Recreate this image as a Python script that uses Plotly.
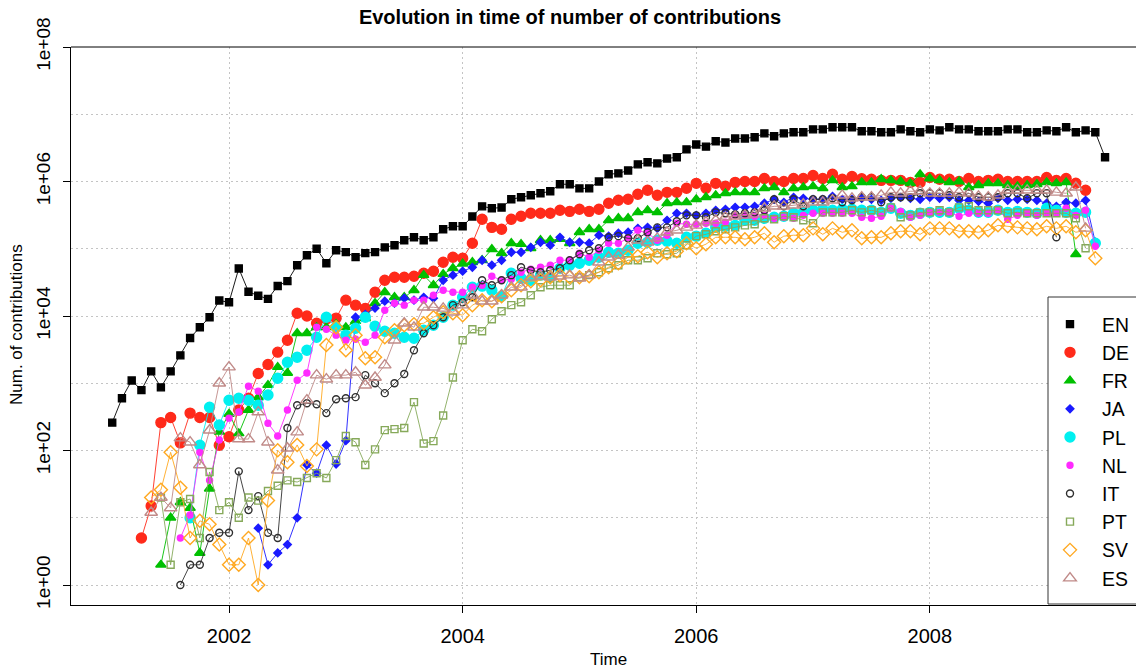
import plotly.graph_objects as go

# ---------------- data (monthly counts) ----------------
languages = ["EN", "DE", "FR", "JA", "PL", "NL", "IT", "PT", "SV", "ES"]
# first month of each series (year, month)
starts = {"EN": (2001, 1), "DE": (2001, 4), "FR": (2001, 6), "JA": (2002, 4),
          "PL": (2001, 9), "NL": (2001, 8), "IT": (2001, 8), "PT": (2001, 6),
          "SV": (2001, 5), "ES": (2001, 5)}

EN = [2.6e2, 6.0e2, 1.1e3, 7.9e2, 1.5e3, 8.7e2, 1.5e3, 2.6e3, 4.7e3, 6.8e3,
      9.6e3, 1.7e4, 1.6e4, 5.1e4, 2.3e4, 2.0e4, 1.8e4, 2.8e4, 3.3e4, 5.7e4,
      8.0e4, 1.0e5, 6.1e4, 9.5e4, 8.9e4, 7.5e4, 8.6e4, 8.9e4, 1.05e5, 1.13e5,
      1.34e5, 1.48e5, 1.34e5, 1.48e5, 1.95e5, 2.16e5, 2.16e5, 3.02e5, 4.27e5, 4.0e5,
      4.1e5, 5.44e5, 5.83e5, 6.24e5, 6.68e5, 7.16e5, 9.1e5, 9.1e5, 7.9e5, 7.9e5,
      1.0e6, 1.28e6, 1.32e6, 1.46e6, 1.8e6, 1.93e6, 1.86e6, 2.2e6, 2.29e6, 3.0e6,
      3.55e6, 3.3e6, 3.96e6, 3.8e6, 4.37e6, 4.37e6, 4.55e6, 5.2e6, 4.7e6, 5.2e6,
      5.4e6, 5.4e6, 5.96e6, 5.96e6, 6.4e6, 6.4e6, 6.4e6, 5.6e6, 5.6e6, 5.4e6,
      5.4e6, 5.96e6, 5.6e6, 5.4e6, 5.96e6, 5.75e6, 6.4e6, 5.96e6, 5.96e6, 5.6e6,
      5.6e6, 5.6e6, 5.96e6, 5.96e6, 5.4e6, 5.4e6, 5.75e6, 5.6e6, 6.4e6, 5.4e6,
      5.75e6, 5.4e6, 2.29e6]

DE = [5, 15, 260, 310, 130, 360, 310,
      310, 120, 160, 400, 600, 1400, 1900, 2900, 4370, 11000,
      10000, 7800, 9000, 9300, 17200, 14500, 13000, 22600, 34000, 37700,
      37700, 39000, 43300, 46400, 63000, 74800, 72300, 121000, 274000, 208000,
      195000, 274000, 304000, 337000, 337000, 337000, 373000, 360000, 386000, 360000,
      386000, 475000, 526000, 544000, 646000, 740000, 624000, 690000, 690000, 793000,
      939000, 793000, 939000, 848000, 971000, 1.0e6, 1.0e6, 1.11e6, 1.0e6, 1.0e6,
      1.11e6, 1.11e6, 1.23e6, 1.11e6, 1.28e6, 1.08e6, 1.19e6, 1.1e6, 1.08e6, 1.04e6,
      1.04e6, 1.04e6, 970000, 970000, 1.15e6, 1.08e6, 1.08e6, 1.0e6, 1.11e6, 1.0e6,
      1.04e6, 1.08e6, 1.0e6, 1.0e6, 1.0e6, 1.0e6, 1.15e6, 1.04e6, 1.11e6, 940000,
      740000]

FR = [2, 10, 17, 14, 3,
      27, 190, 350, 180, 400, 620, 940, 1740, 1420, 5550,
      5550, 6800, 6800, 7550, 6800, 8400, 9300, 15500, 22600, 19000,
      19000, 24200, 40500, 28700, 41900, 51400, 60000, 63000, 67500, 98300,
      85700, 121000, 117000, 102000, 134000, 134000, 139000, 121000, 176000, 195000,
      195000, 265000, 284000, 284000, 348000, 373000, 348000, 475000, 490000, 490000,
      544000, 583000, 624000, 668000, 690000, 690000, 690000, 793000, 820000, 690000,
      793000, 820000, 848000, 793000, 1.04e6, 820000, 848000, 971000, 971000, 1.08e6,
      1.04e6, 1.0e6, 939000, 1.28e6, 1.11e6, 1.04e6, 971000, 1.0e6, 820000, 880000,
      939000, 939000, 880000, 848000, 880000, 910000, 971000, 939000, 971000, 82900]

JA = [7, 2, 3, 4, 10,
      61, 46, 120, 63, 140, 9600, 10600, 13100, 16600, 15500,
      18400, 17200, 19000, 18400, 34000, 40500, 46400, 53000, 67500, 56900,
      67500, 88700, 88700, 105000, 125000, 113000, 148000, 125000, 125000, 121000,
      159000, 154000, 170000, 176000, 201000, 208000, 201000, 265000, 337000, 337000,
      314000, 337000, 373000, 386000, 413000, 413000, 428000, 475000, 544000, 491000,
      583000, 563000, 544000, 544000, 603000, 544000, 544000, 563000, 544000, 526000,
      563000, 583000, 563000, 544000, 583000, 563000, 583000, 526000, 526000, 508000,
      475000, 563000, 526000, 544000, 544000, 526000, 475000, 428000, 491000, 475000,
      526000, 125000]

PL = [10, 120,
      440, 240, 560, 600, 560, 470, 670, 1190, 2050, 2440,
      3100, 4840, 9600, 6800, 5190, 6590, 9600, 7050, 5940, 5550,
      4840, 4680, 6150, 7300, 9600, 14500, 19000, 26800, 27800, 24200,
      19700, 43300, 36400, 34000, 40500, 37700, 51400, 57000, 61000, 67500,
      74800, 88700, 85700, 95000, 121000, 125000, 134000, 130000, 121000, 148000,
      154000, 170000, 208000, 216000, 223000, 265000, 265000, 284000, 294000, 304000,
      337000, 348000, 373000, 386000, 373000, 386000, 386000, 373000, 373000, 348000,
      400000, 337000, 314000, 337000, 348000, 348000, 348000, 400000, 373000, 348000,
      348000, 373000, 348000, 360000, 348000, 337000, 400000, 373000, 348000, 337000,
      348000, 121000]

NL = [5, 11, 94,
      36, 143, 303, 373, 905, 763, 255, 164, 400, 1110,
      1420, 6800, 6350, 5190, 4370, 4520, 4070, 5190, 12200, 15500,
      14500, 17200, 17200, 20400, 24200, 22600, 22600, 26800, 28700, 39000,
      34000, 35200, 44800, 49700, 53200, 57000, 67500, 67500, 85700, 74800,
      95000, 121000, 121000, 143000, 188000, 170000, 134000, 159000, 240000, 231000,
      231000, 240000, 240000, 249000, 314000, 314000, 304000, 314000, 284000, 294000,
      284000, 314000, 337000, 337000, 337000, 337000, 337000, 294000, 284000, 304000,
      400000, 360000, 294000, 314000, 348000, 348000, 348000, 304000, 337000, 337000,
      337000, 373000, 274000, 314000, 337000, 314000, 337000, 337000, 400000, 314000,
      373000, 109000]

IT = [1, 2, 2,
      5, 6, 6, 49, 13, 21, 6, 5, 216, 470,
      504, 487, 360, 580, 600, 622, 1320, 1000, 713, 1000,
      1370, 3100, 5550, 7300, 9600, 14500, 16000, 19000, 34000, 28700,
      34000, 40500, 53200, 48000, 44800, 48000, 51400, 67500, 82900, 95000,
      102000, 148000, 154000, 143000, 143000, 176000, 208000, 208000, 256000, 314000,
      314000, 294000, 348000, 337000, 325000, 337000, 348000, 373000, 544000, 428000,
      544000, 428000, 544000, 544000, 563000, 491000, 526000, 583000, 583000, 491000,
      583000, 583000, 583000, 668000, 668000, 668000, 624000, 583000, 668000, 583000,
      583000, 583000, 668000, 668000, 563000, 668000, 668000, 148000]

PT = [20, 2, 17, 19, 5,
      48, 13, 17, 10, 20, 18, 25, 30, 36, 34,
      39, 46, 39, 72, 164, 133, 61, 104, 201, 208,
      216, 524, 127, 138, 332, 1220, 4370, 6350, 5940, 8960,
      11800, 14500, 16000, 20400, 26800, 28700, 28700, 28700, 37700, 40500,
      44800, 51400, 57000, 67500, 67500, 72300, 85700, 82900, 85700, 113000,
      154000, 164000, 182000, 195000, 208000, 223000, 231000, 284000, 274000, 304000,
      294000, 265000, 240000, 348000, 348000, 348000, 373000, 348000, 373000, 348000,
      413000, 294000, 314000, 348000, 348000, 373000, 348000, 413000, 428000, 373000,
      373000, 373000, 337000, 348000, 337000, 337000, 337000, 337000, 337000, 284000,
      102000]

SV = [20, 26, 94, 28, 5, 9,
      8, 4, 2, 2, 5, 1, 18, 101, 67, 121,
      59, 104, 3700, 6800, 3100, 5190, 2360, 2440, 4840, 6150,
      7300, 7550, 7800, 9600, 11400, 11000, 10300, 14500, 17200, 16600,
      19700, 24200, 28700, 32900, 34000, 37700, 40500, 37700, 37700, 39000,
      44800, 53200, 61000, 74800, 77400, 88700, 74800, 85700, 91800, 121000,
      102000, 117000, 148000, 148000, 148000, 139000, 148000, 170000, 125000, 154000,
      159000, 159000, 201000, 164000, 201000, 176000, 188000, 143000, 148000, 148000,
      170000, 182000, 182000, 164000, 201000, 201000, 201000, 182000, 182000, 176000,
      188000, 223000, 216000, 208000, 201000, 195000, 216000, 201000, 216000, 176000,
      188000, 72300]

ES = [12, 20, 14, 153, 133, 61,
      200, 1000, 1740, 148, 148, 373, 133, 51, 108, 188,
      561, 1320, 1150, 1320, 1320, 1460, 936, 1220, 1860, 4370,
      7800, 6800, 13500, 13500, 13000, 11400, 14500, 20400, 16600, 16600,
      20400, 26800, 26800, 37700, 39000, 37700, 39000, 40500, 36400, 40500,
      63000, 74800, 80000, 105000, 134000, 125000, 143000, 176000, 188000, 208000,
      223000, 249000, 265000, 294000, 304000, 314000, 325000, 400000, 428000, 428000,
      443000, 459000, 491000, 491000, 526000, 624000, 563000, 583000, 583000, 624000,
      690000, 668000, 716000, 716000, 668000, 668000, 668000, 690000, 668000, 603000,
      583000, 624000, 740000, 740000, 740000, 740000, 740000, 690000, 668000, 820000,
      201000]

series = {"EN": EN, "DE": DE, "FR": FR, "JA": JA, "PL": PL,
          "NL": NL, "IT": IT, "PT": PT, "SV": SV, "ES": ES}

x_tick_years = [2002, 2004, 2006, 2008]
y_tick_vals = [1, 1e2, 1e4, 1e6, 1e8]
y_tick_text = ["1e+00", "1e+02", "1e+04", "1e+06", "1e+08"]
y_minor_vals = [1e1, 1e3, 1e5, 1e7]

# ---------------- styles ----------------
styles = {
    "EN": dict(color="#000000", symbol="square", size=7),
    "DE": dict(color="#FF2A1A", symbol="circle", size=10),
    "FR": dict(color="#00C000", symbol="triangle-up", size=9),
    "JA": dict(color="#1A1AFF", symbol="diamond", size=6),
    "PL": dict(color="#00F0F0", symbol="circle", size=10),
    "NL": dict(color="#FF2AFF", symbol="circle", size=6),
    "IT": dict(color="#303030", symbol="circle-open", size=7),
    "PT": dict(color="#86A95A", symbol="square-open", size=7),
    "SV": dict(color="#FFA820", symbol="diamond-open", size=10),
    "ES": dict(color="#C08A88", symbol="triangle-up-open", size=11),
}

FONT = "Liberation Sans, Arial, Helvetica, sans-serif"
GRID = "#c4c4c4"

fig = go.Figure()
for lang in languages:
    vals = series[lang]
    y0, m0 = starts[lang]
    xs = [y0 + (m0 - 1) / 12 + i / 12 for i in range(len(vals))]
    st = styles[lang]
    fig.add_trace(go.Scatter(
        x=xs, y=vals, mode="lines+markers", name=lang, showlegend=False,
        line=dict(color=st["color"], width=0.9),
        marker=dict(symbol=st["symbol"], size=st["size"], color=st["color"],
                    line=dict(width=1.4, color=st["color"])),
    ))
# legend entries: symbols only
for lang in languages:
    st = styles[lang]
    fig.add_trace(go.Scatter(
        x=[None], y=[None], mode="markers", name=lang, showlegend=True,
        marker=dict(symbol=st["symbol"], size=st["size"], color=st["color"],
                    line=dict(width=1.4, color=st["color"])),
    ))

W, H = 1136, 669
L, R, T, B = 71, 0, 47, 64
pw, ph = W - L - R, H - T - B

def px_x(p):
    return (p - L) / pw

def px_y(p):
    return (H - B - p) / ph

fig.update_layout(
    width=W, height=H,
    margin=dict(l=L, r=R, t=T, b=B, autoexpand=False),
    paper_bgcolor="white", plot_bgcolor="white",
    font=dict(family=FONT, color="black"),
    showlegend=True,
    title=dict(text="<b>Evolution in time of number of contributions</b>",
               x=570 / W, xanchor="center", y=1 - 17 / H, yanchor="middle",
               font=dict(size=20, family=FONT, color="black")),
    legend=dict(x=px_x(1038), xanchor="left", y=px_y(305), yanchor="top",
                bgcolor="rgba(0,0,0,0)", borderwidth=0,
                font=dict(size=19.4, family=FONT, color="black"),
                itemwidth=54, tracegroupgap=0),
    xaxis=dict(range=[2000.647, 2009.765], tickmode="array",
               tickvals=x_tick_years, ticktext=[str(v) for v in x_tick_years],
               ticks="outside", ticklen=7, tickcolor="black",
               showline=True, linecolor="black", linewidth=1,
               showgrid=True, gridcolor=GRID, griddash="2px,3px", gridwidth=1,
               zeroline=False, tickfont=dict(size=20), automargin=False,
               ticklabelstandoff=6),
    yaxis=dict(type="log", range=[-0.297, 8.0], tickmode="array",
               tickvals=y_tick_vals, ticktext=y_tick_text, tickangle=-90,
               ticks="outside", ticklen=7, tickcolor="black",
               showline=True, linecolor="black", linewidth=1,
               showgrid=True, gridcolor=GRID, griddash="2px,3px", gridwidth=1,
               minor=dict(tickvals=y_minor_vals, showgrid=True, gridcolor=GRID,
                          griddash="2px,3px", ticks=""),
               zeroline=False, tickfont=dict(size=19), automargin=False,
               ticklabelstandoff=5),
    annotations=[
        dict(text="Num. of contributions", xref="paper", yref="paper",
             x=px_x(16), y=px_y(325), xanchor="center", yanchor="middle",
             textangle=-90, showarrow=False,
             font=dict(size=17, family=FONT, color="black")),
        dict(text="Time", xref="paper", yref="paper",
             x=px_x(608), y=px_y(659), xanchor="center", yanchor="middle",
             showarrow=False,
             font=dict(size=17, family=FONT, color="black")),
    ],
    shapes=[
        dict(type="line", xref="paper", yref="paper", x0=0, x1=1, y0=1, y1=1,
             line=dict(color="black", width=1)),
        # legend box
        dict(type="rect", xref="paper", yref="paper", layer="above",
             x0=px_x(1048), x1=px_x(1160), y0=px_y(604), y1=px_y(297),
             fillcolor="white", line=dict(color="#333333", width=1)),
    ],
)

fig.write_html("out.html", config={"displayModeBar": False},
               post_script="document.body.style.margin='0';document.body.style.overflow='hidden';")
